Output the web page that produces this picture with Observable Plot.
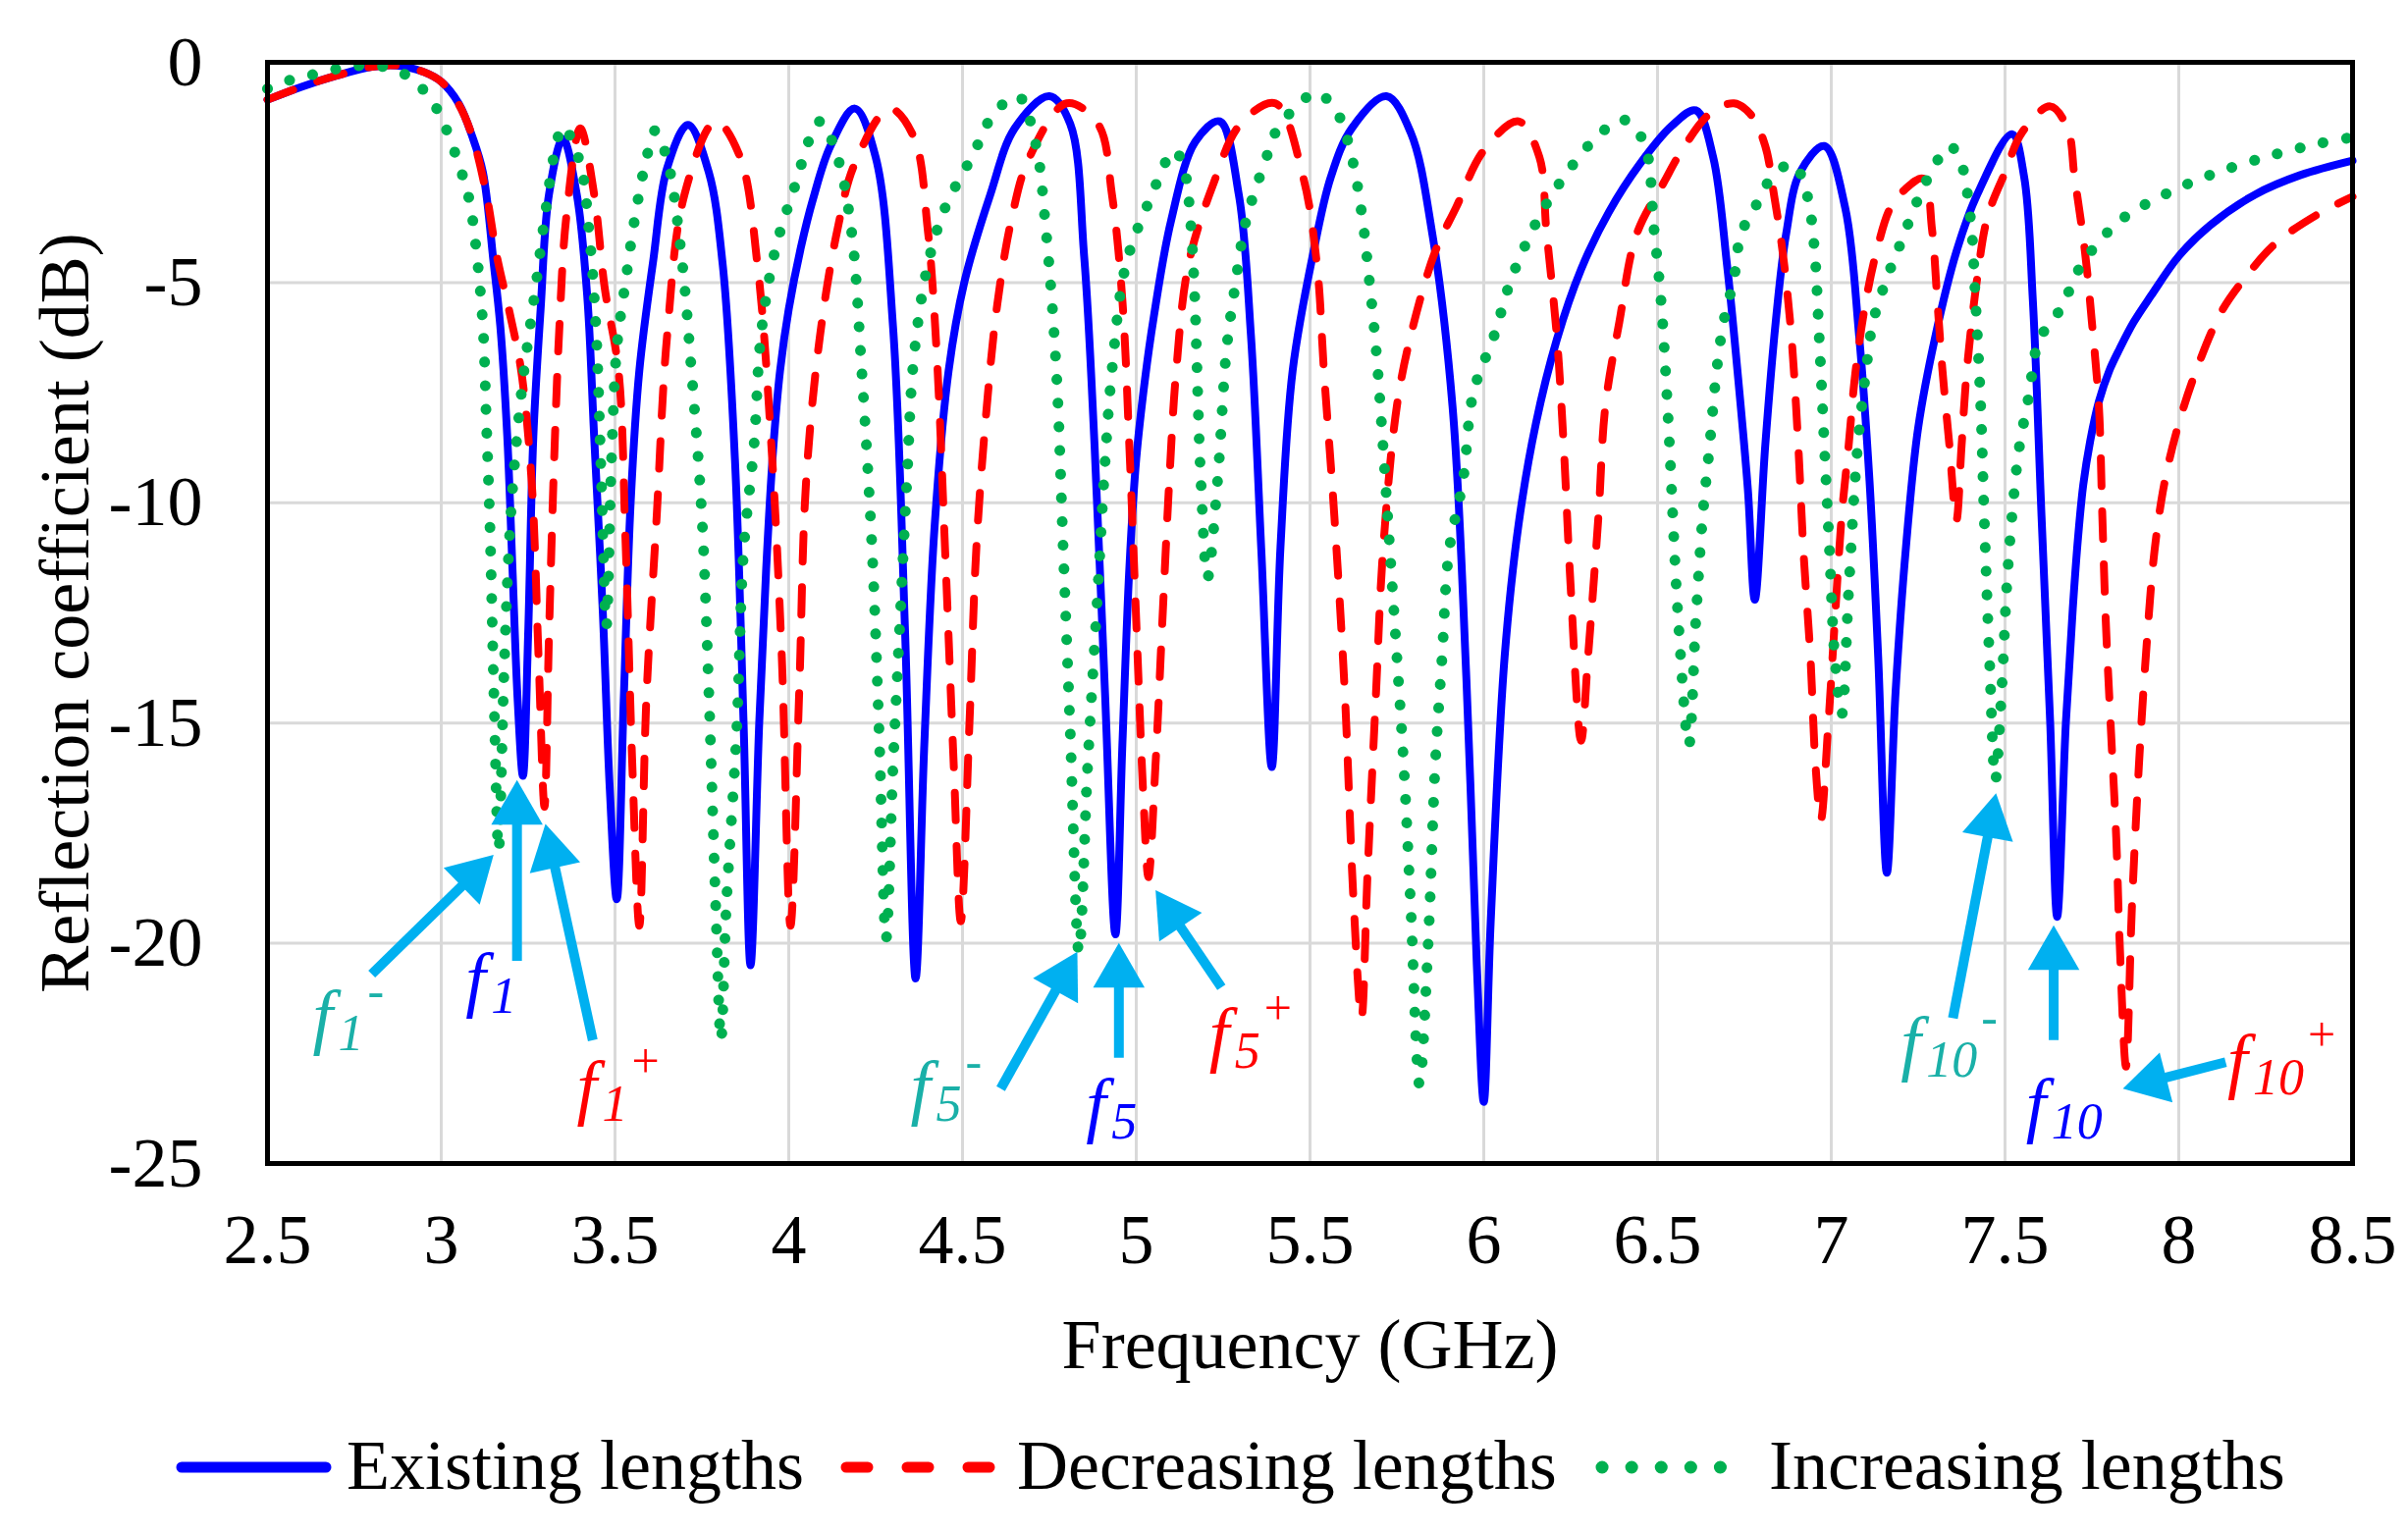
<!DOCTYPE html>
<html>
<head>
<meta charset="utf-8">
<script src="https://cdn.jsdelivr.net/npm/d3@7"></script>
<script src="https://cdn.jsdelivr.net/npm/@observablehq/plot@0.6"></script>
<style>
  body { margin: 0; background: white; }
  #chart svg { display: block; }
</style>
</head>
<body>
<div id="chart"></div>
<script>
// reflection coefficient (dB), per series
const existingF = [2.50,2.60,2.70,2.80,2.87,2.95,3.00,3.05,3.09,3.12,3.15,3.17,3.19,3.205,3.22,3.235,3.25,3.265,3.286,3.31,3.35,3.39,3.42,3.44,3.465,3.485,3.505,3.525,3.545,3.57,3.61,3.65,3.71,3.77,3.81,3.845,3.87,3.89,3.915,3.935,3.955,3.975,4.00,4.035,4.07,4.12,4.19,4.25,4.30,4.335,4.365,4.39,4.42,4.46,4.505,4.58,4.65,4.75,4.81,4.85,4.88,4.91,4.94,4.96,4.98,5.00,5.025,5.05,5.10,5.17,5.24,5.295,5.33,5.36,5.39,5.415,5.45,5.51,5.56,5.62,5.72,5.79,5.85,5.91,5.95,5.98,6.00,6.02,6.06,6.10,6.15,6.21,6.28,6.36,6.45,6.54,6.61,6.66,6.70,6.73,6.76,6.78,6.81,6.84,6.87,6.91,6.98,7.04,7.08,7.11,7.135,7.16,7.185,7.215,7.25,7.30,7.36,7.42,7.52,7.555,7.58,7.605,7.63,7.65,7.675,7.695,7.71,7.725,7.745,7.77,7.80,7.83,7.87,7.92,8.00,8.09,8.22,8.35,8.50]
const existingDb = [-0.85,-0.55,-0.30,-0.10,-0.07,-0.22,-0.44,-0.93,-1.7,-2.5,-4.5,-6.0,-8.5,-11.5,-14.5,-16.2,-13.0,-8.5,-5.6,-3.0,-1.74,-3.0,-5.3,-8.5,-12.5,-16.5,-19.0,-14.5,-10.0,-7.0,-4.5,-2.4,-1.42,-2.5,-4.6,-9.0,-15.0,-20.5,-15.0,-11.5,-8.8,-7.0,-5.6,-4.2,-3.1,-1.9,-1.05,-2.15,-6.0,-13.0,-20.8,-15.5,-10.5,-7.0,-5.0,-3.0,-1.5,-0.77,-1.4,-4.4,-8.7,-14.3,-19.8,-15.5,-11.5,-9.0,-7.2,-5.8,-3.6,-1.8,-1.34,-3.0,-6.2,-11.1,-16.0,-11.0,-7.0,-4.3,-2.6,-1.5,-0.77,-1.6,-3.8,-7.8,-14.0,-20.5,-23.6,-19.5,-13.5,-10.5,-8.2,-6.3,-4.7,-3.4,-2.3,-1.45,-1.09,-2.15,-4.6,-7.0,-9.7,-12.2,-8.7,-5.9,-3.9,-2.5,-1.9,-3.3,-6.2,-9.5,-13.5,-18.4,-14.3,-11.0,-8.3,-6.2,-4.3,-3.0,-1.63,-2.6,-5.4,-10.3,-15.0,-19.4,-15.0,-12.4,-10.8,-9.6,-8.6,-7.7,-7.0,-6.5,-5.9,-5.3,-4.4,-3.7,-3.0,-2.56,-2.23]

const decreasingF = [2.50,2.60,2.70,2.80,2.87,2.95,3.00,3.05,3.09,3.13,3.16,3.20,3.23,3.26,3.28,3.297,3.31,3.325,3.34,3.36,3.40,3.44,3.47,3.51,3.53,3.55,3.57,3.59,3.62,3.65,3.70,3.79,3.86,3.91,3.95,3.98,4.005,4.03,4.05,4.09,4.14,4.19,4.29,4.36,4.40,4.425,4.45,4.475,4.495,4.52,4.54,4.57,4.60,4.64,4.69,4.80,4.89,4.93,4.96,4.98,5.00,5.02,5.035,5.055,5.075,5.095,5.115,5.15,5.22,5.30,5.40,5.48,5.52,5.54,5.57,5.60,5.625,5.648,5.665,5.69,5.71,5.75,5.79,5.86,5.92,6.00,6.10,6.16,6.18,6.21,6.23,6.25,6.28,6.30,6.33,6.35,6.39,6.44,6.52,6.57,6.65,6.72,6.77,6.81,6.835,6.86,6.885,6.905,6.92,6.94,6.955,6.97,6.99,7.01,7.03,7.05,7.07,7.10,7.13,7.17,7.21,7.265,7.29,7.305,7.32,7.34,7.36,7.375,7.39,7.42,7.45,7.50,7.55,7.63,7.68,7.70,7.73,7.75,7.77,7.78,7.79,7.805,7.82,7.83,7.848,7.865,7.885,7.905,7.93,7.96,8.00,8.05,8.12,8.19,8.28,8.40,8.50]
const decreasingDb = [-0.85,-0.55,-0.30,-0.10,-0.07,-0.22,-0.44,-0.95,-1.7,-3.0,-4.4,-5.8,-7.0,-9.5,-13.5,-16.9,-13.0,-9.0,-6.0,-3.5,-1.5,-3.0,-5.1,-7.0,-10.8,-16.0,-19.6,-14.5,-10.3,-6.2,-3.0,-1.34,-2.15,-4.6,-8.7,-13.5,-19.6,-14.3,-9.5,-6.2,-3.8,-2.3,-1.05,-1.7,-3.8,-6.5,-11.1,-16.0,-19.5,-15.0,-11.0,-7.8,-5.5,-3.6,-2.2,-0.93,-1.4,-3.0,-5.4,-8.7,-12.7,-16.6,-18.5,-16.0,-12.7,-9.5,-7.0,-4.6,-2.8,-1.4,-0.93,-2.6,-4.6,-7.0,-10.3,-14.3,-19.0,-21.7,-18.5,-14.3,-11.1,-7.8,-6.2,-4.3,-3.3,-2.0,-1.34,-2.15,-3.8,-6.2,-8.7,-11.9,-15.4,-13.5,-10.3,-7.8,-5.9,-3.9,-2.7,-2.0,-1.17,-0.93,-1.2,-1.9,-3.0,-4.3,-6.2,-8.7,-11.1,-13.5,-16.0,-17.2,-15.2,-12.7,-10.3,-8.7,-7.0,-5.4,-4.3,-3.3,-2.9,-2.64,-3.8,-5.4,-7.0,-8.7,-10.4,-8.7,-7.0,-4.9,-3.5,-2.5,-1.58,-1.0,-1.5,-2.6,-4.3,-5.9,-7.8,-10.3,-12.7,-15.2,-17.6,-20.0,-22.8,-19.2,-16.0,-13.5,-11.1,-9.5,-8.2,-7.0,-5.7,-4.9,-4.1,-3.45,-3.05]

const increasingF = [2.50,2.545,2.63,2.72,2.80,2.86,2.92,2.97,3.00,3.05,3.08,3.10,3.12,3.13,3.14,3.152,3.165,3.18,3.195,3.21,3.235,3.27,3.30,3.33,3.35,3.40,3.425,3.445,3.46,3.475,3.49,3.505,3.53,3.56,3.59,3.615,3.65,3.69,3.72,3.75,3.77,3.79,3.805,3.82,3.85,3.87,3.90,3.92,3.96,4.01,4.09,4.14,4.18,4.21,4.24,4.26,4.28,4.30,4.32,4.34,4.36,4.40,4.45,4.53,4.59,4.66,4.71,4.74,4.77,4.79,4.81,4.835,4.86,4.89,4.91,4.93,4.97,5.04,5.11,5.14,5.155,5.167,5.186,5.205,5.234,5.26,5.284,5.31,5.33,5.375,5.40,5.47,5.52,5.58,5.62,5.65,5.67,5.69,5.71,5.73,5.75,5.77,5.79,5.815,5.84,5.86,5.88,5.90,5.94,5.97,6.03,6.08,6.16,6.24,6.33,6.40,6.46,6.49,6.51,6.53,6.56,6.59,6.61,6.63,6.65,6.67,6.69,6.72,6.74,6.78,6.83,6.89,6.93,6.95,6.965,6.98,6.995,7.01,7.03,7.05,7.075,7.10,7.12,7.16,7.20,7.25,7.30,7.34,7.37,7.40,7.415,7.43,7.44,7.455,7.472,7.49,7.505,7.52,7.54,7.57,7.59,7.62,7.66,7.72,7.83,7.96,8.09,8.25,8.40,8.50]
const increasingDb = [-0.6,-0.45,-0.28,-0.12,-0.07,-0.15,-0.4,-0.85,-1.25,-2.3,-3.1,-4.2,-6.0,-8.2,-10.5,-14.5,-17.9,-14.0,-11.0,-9.2,-7.2,-5.2,-3.4,-1.9,-1.45,-2.3,-3.8,-6.0,-9.3,-12.8,-9.0,-6.5,-5.0,-3.4,-2.2,-1.55,-2.2,-4.3,-7.0,-10.3,-14.3,-19.2,-22.2,-19.2,-15.2,-11.1,-8.7,-6.2,-4.3,-3.0,-1.34,-2.15,-3.8,-7.0,-11.1,-15.2,-19.9,-16.0,-12.7,-9.5,-6.7,-4.6,-3.3,-2.1,-1.17,-0.77,-1.83,-3.8,-7.0,-11.1,-15.2,-20.2,-16.0,-11.9,-9.1,-7.0,-4.6,-3.1,-2.0,-2.5,-3.5,-5.1,-9.5,-11.7,-9.5,-6.5,-5.1,-3.8,-3.2,-2.15,-1.6,-0.93,-0.69,-1.17,-2.15,-3.5,-4.9,-6.5,-8.7,-11.1,-13.5,-16.0,-19.2,-23.2,-20.0,-16.0,-13.5,-11.1,-9.5,-7.5,-6.2,-4.9,-3.5,-2.5,-1.66,-1.3,-1.8,-3.8,-5.4,-8.0,-12.7,-15.5,-12.7,-10.3,-8.7,-7.0,-5.9,-4.9,-3.9,-3.3,-2.6,-2.3,-3.0,-4.1,-6.2,-8.7,-11.1,-13.5,-14.8,-12.0,-8.8,-7.0,-5.9,-4.9,-4.1,-3.1,-2.3,-1.9,-2.2,-3.5,-5.4,-7.8,-10.3,-13.5,-16.3,-14.3,-11.9,-10.3,-8.8,-7.5,-6.5,-6.0,-5.6,-4.6,-3.6,-3.0,-2.56,-2.15,-1.85,-1.7]

const xTicks = [2.5, 3, 3.5, 4, 4.5, 5, 5.5, 6, 6.5, 7, 7.5, 8, 8.5]
const yTicks = [-25, -20, -15, -10, -5, 0]

// annotation arrows: tail -> tip, in GHz / dB
const arrowFrom = [[2.80,-20.7],[3.218,-20.4],[3.436,-22.2],[4.61,-23.3],[4.95,-22.6],[5.245,-21.0],[7.35,-21.7],[7.64,-22.2],[8.135,-22.7]]
const arrowTo = [[3.15,-18.0],[3.218,-16.3],[3.30,-17.3],[4.83,-20.2],[4.95,-20.0],[5.056,-18.8],[7.474,-16.6],[7.64,-19.6],[7.84,-23.3]]

// f labels
const labelX = [2.63, 3.07, 3.39, 4.35, 4.855, 5.21, 7.20, 7.56, 8.14]
const labelY = [-22.2, -21.35, -23.8, -23.8, -24.2, -22.6, -22.8, -24.2, -23.2]
const labelSub = ["1", "1", "1", "5", "5", "5", "10", "10", "10"]
const labelSup = ["-", "", "+", "-", "", "+", "-", "", "+"]
const labelColor = ["#1ab0a8", "#0000ff", "#ff0000", "#1ab0a8", "#0000ff", "#ff0000", "#1ab0a8", "#0000ff", "#ff0000"]

const legendNames = ["Existing lengths", "Decreasing lengths", "Increasing lengths"]
const legendColors = ["#0000ff", "#ff0000", "#00b050"]

const W = 2453, H = 1440
const mL = 272, mR = 57, mT = 63, mB = 255
const kx = (W - mL - mR) / 6, ky = (H - mT - mB) / 25

const toRows = (f, db) => f.map((x, i) => ({x, y: db[i]}))
const existing = toRows(existingF, existingDb)
const decreasing = toRows(decreasingF, decreasingDb)
const increasing = toRows(increasingF, increasingDb)

// arrow shaft ends at the centre of the triangle head
const arrows = arrowFrom.map(([x1, y1], i) => {
  const [x2, y2] = arrowTo[i]
  const sx = (x2 - x1) * kx, sy = (y2 - y1) * ky
  const L = Math.hypot(sx, sy)
  return {x1, y1, hx: x2 - 30 * sx / L / kx, hy: y2 - 30 * sy / L / ky,
          rot: Math.atan2(sx, sy) * 180 / Math.PI}
})

const labels = labelX.map((x, i) => ({x, y: labelY[i], sub: labelSub[i], sup: labelSup[i], color: labelColor[i]}))

const chart = Plot.plot({
  width: W,
  height: H,
  marginLeft: mL, marginRight: mR, marginTop: mT, marginBottom: mB,
  style: {fontFamily: "Liberation Serif", fontSize: "72px", background: "white", color: "black"},
  x: {domain: [2.5, 8.5], ticks: xTicks, tickSize: 0, tickPadding: 50, tickFormat: d => `${d}`, label: null},
  y: {domain: [-25, 0], ticks: yTicks, tickSize: 0, tickPadding: 66, tickFormat: d => `${d}`, label: null},
  color: {type: "identity"},
  marks: [
    Plot.ruleX(xTicks, {stroke: "#d9d9d9", strokeWidth: 3}),
    Plot.ruleY(yTicks, {stroke: "#d9d9d9", strokeWidth: 3}),
    Plot.line(existing, {x: "x", y: "y", stroke: "#0000ff", strokeWidth: 8, curve: "catmull-rom"}),
    Plot.line(decreasing, {x: "x", y: "y", stroke: "#ff0000", strokeWidth: 8, strokeDasharray: "28 26", strokeLinecap: "round", curve: "catmull-rom"}),
    Plot.line(increasing, {x: "x", y: "y", stroke: "#00b050", strokeWidth: 11, strokeDasharray: "0.1 24", strokeLinecap: "round", curve: "catmull-rom"}),
    Plot.frame({stroke: "black", strokeWidth: 5}),
    Plot.link(arrows, {x1: "x1", y1: "y1", x2: "hx", y2: "hy", stroke: "#00b0f0", strokeWidth: 10}),
    Plot.dot(arrows, {x: "hx", y: "hy", symbol: "triangle", r: 19.5, fill: "#00b0f0", rotate: "rot"}),
    Plot.text(labels, {x: "x", y: "y", text: () => "f", fill: "color", fontStyle: "italic", fontSize: 74, textAnchor: "start", lineAnchor: "bottom"}),
    Plot.text(labels, {x: "x", y: "y", text: "sub", fill: "color", fontStyle: "italic", fontSize: 52, textAnchor: "start", lineAnchor: "bottom", dx: 26, dy: 10}),
    Plot.text(labels.filter(d => d.sup && d.sub.length === 1), {x: "x", y: "y", text: "sup", fill: "color", fontSize: 50, textAnchor: "start", lineAnchor: "bottom", dx: 56, dy: -34}),
    Plot.text(labels.filter(d => d.sup && d.sub.length === 2), {x: "x", y: "y", text: "sup", fill: "color", fontSize: 50, textAnchor: "start", lineAnchor: "bottom", dx: 82, dy: -34}),
    Plot.text(["Frequency (GHz)"], {frameAnchor: "bottom", dy: 208, fontSize: 72}),
    Plot.text(["Reflection coefficient (dB)"], {frameAnchor: "left", textAnchor: "middle", dx: -206, rotate: -90, fontSize: 72})
  ]
})

d3.select('#chart').append(() => chart)

// legend below the plot
const leg = d3.select('#chart').append('svg')
  .attr('width', W).attr('height', 123)
  .style('display', 'block')
  .style('font-family', 'Liberation Serif')
  .style('font-size', '72px')

const legX = [185, 862, 1632]
const legEnd = [332, 1020, 1782]
const textX = [353, 1036, 1802]
const dash = [null, '22 40', '0.1 30']
const widths = [11, 11, 13]
legendNames.forEach((name, i) => {
  const ln = leg.append('line')
    .attr('x1', legX[i]).attr('x2', legEnd[i])
    .attr('y1', 55).attr('y2', 55)
    .attr('stroke', legendColors[i])
    .attr('stroke-width', widths[i])
    .attr('stroke-linecap', 'round')
  if (dash[i]) ln.attr('stroke-dasharray', dash[i])
  leg.append('text').attr('x', textX[i]).attr('y', 77).text(name)
})
</script>
</body>
</html>
